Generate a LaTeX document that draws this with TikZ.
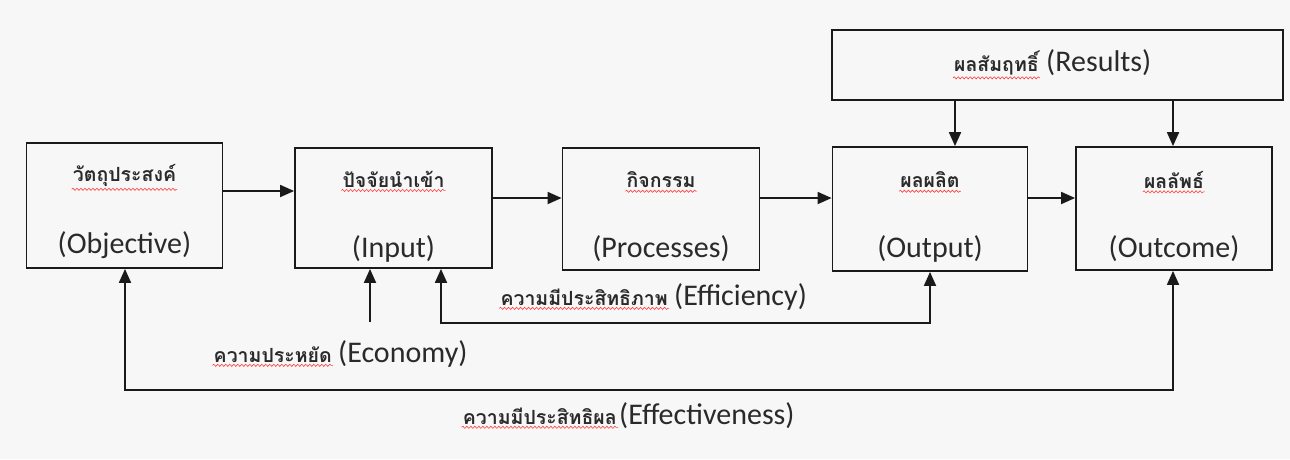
\documentclass[tikz,border=0pt]{standalone}
\usepackage{fontspec}
\setmainfont{Carlito}
\newfontfamily\thaifont[Script=Thai]{Loma}
\usetikzlibrary{arrows.meta,decorations.pathmorphing}
\definecolor{bg}{HTML}{F7F7F7}
\definecolor{ink}{HTML}{1A1A1A}
\definecolor{txt}{HTML}{2A2A2A}
\tikzset{
  box/.style={draw=ink, line width=1.8pt, fill=bg, inner sep=0pt},
  en/.style={font=\fontsize{30}{34}\selectfont, text=txt, inner sep=1pt},
  th/.style={font=\thaifont\bfseries\fontsize{19.5}{22}\selectfont, text=txt, inner sep=1pt},
  arr/.style={draw=ink, line width=1.8pt, -{Triangle[length=14pt,width=12pt]}},
  arrboth/.style={draw=ink, line width=1.8pt, {Triangle[length=14pt,width=12pt]}-{Triangle[length=14pt,width=12pt]}},
  squig/.style={draw=red!75, line width=0.6pt, decorate, decoration={snake, amplitude=1.1pt, segment length=4pt}}
}
\newcommand{\spellmark}[1]{\draw[squig] ([yshift=-2pt]#1.south west) -- ([yshift=-2pt]#1.south east);}
\begin{document}
\begin{tikzpicture}[x=1pt,y=-1pt]
\useasboundingbox (0,0) rectangle (1290,459);
\fill[bg] (0,0) rectangle (1290,459);

% boxes
\node[box, minimum width=196, minimum height=125] (obj) at (124.5,205.5) {};
\node[box, minimum width=197, minimum height=120] (inp) at (393.5,208) {};
\node[box, minimum width=197, minimum height=122] (pro) at (661,209) {};
\node[box, minimum width=195, minimum height=124] (out) at (930,209) {};
\node[box, minimum width=196, minimum height=123] (otc) at (1174,208.5) {};
\node[box, minimum width=451, minimum height=70] (res) at (1057.5,65) {};

% box texts
\node[th] (objT) at (124.5,175) {วัตถุประสงค์};
\node[en] (objE) at (124.5,245) {(Objective)};
\node[th] (inpT) at (393.5,179) {ปัจจัยนำเข้า};
\node[en] (inpE) at (393.5,249) {(Input)};
\node[th] (proT) at (661,180) {กิจกรรม};
\node[en] (proE) at (661,249) {(Processes)};
\node[th] (outT) at (930,180) {ผลผลิต};
\node[en] (outE) at (930,249) {(Output)};
\node[th] (otcT) at (1174,180) {ผลลัพธ์};
\node[en] (otcE) at (1174,249) {(Outcome)};
\node[th, anchor=base east] (resT) at (1040,71) {ผลสัมฤทธิ์};
\node[en, anchor=base west] (resE) at ([xshift=5pt]resT.base east) {(Results)};

% free labels
\node[th, anchor=base east] (effT) at (669,305) {ความมีประสิทธิภาพ};
\node[en, anchor=base west] (effE) at ([xshift=4pt]effT.base east) {(Efficiency)};
\node[th, anchor=base east] (ecoT) at (333,362) {ความประหยัด};
\node[en, anchor=base west] (ecoE) at ([xshift=4pt]ecoT.base east) {(Economy)};
\node[th, anchor=base east] (efvT) at (618,424) {ความมีประสิทธิผล};
\node[en, anchor=base west] (efvE) at ([xshift=0pt]efvT.base east) {(Effectiveness)};

% spelling marks
\foreach \n in {objT,inpT,proT,outT,otcT,resT,effT,ecoT,efvT}{\spellmark{\n}}

% helper coordinates
\coordinate (ya) at (0,191);
\coordinate (yb) at (0,198);
\coordinate (xr1) at (955,0);
\coordinate (xr2) at (1173,0);
\coordinate (eco) at (370,322);
\coordinate (e1) at (441,323);
\coordinate (e2) at (930,323);
\coordinate (f1) at (125,390);
\coordinate (f2) at (1173,390);

% main flow
\draw[arr] (obj.east |- ya) -- (inp.west |- ya);
\draw[arr] (inp.east |- yb) -- (pro.west |- yb);
\draw[arr] (pro.east |- yb) -- (out.west |- yb);
\draw[arr] (out.east |- yb) -- (otc.west |- yb);

% results
\draw[arr] (res.south -| xr1) -- (out.north -| xr1);
\draw[arr] (res.south -| xr2) -- (otc.north -| xr2);

% economy
\draw[arr] (eco) -- (inp.south -| eco);
% efficiency
\draw[arrboth] (inp.south -| e1) -- (e1) -- (e2) -- (out.south -| e2);
% effectiveness
\draw[arrboth] (obj.south -| f1) -- (f1) -- (f2) -- (otc.south -| f2);
\end{tikzpicture}
\end{document}
